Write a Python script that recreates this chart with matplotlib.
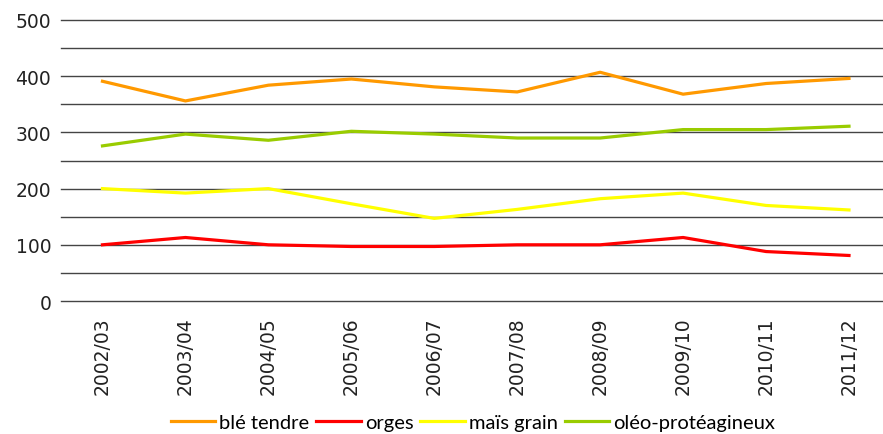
import matplotlib
matplotlib.use("Agg")
import matplotlib.pyplot as plt
from matplotlib.ticker import MultipleLocator

campagnes = ["2002/03", "2003/04", "2004/05", "2005/06", "2006/07",
             "2007/08", "2008/09", "2009/10", "2010/11", "2011/12"]
ble_tendre = [391, 356, 384, 395, 381, 372, 407, 368, 387, 396]
orges = [100, 113, 100, 97, 97, 100, 100, 113, 88, 81]
mais_grain = [200, 192, 200, 173, 147, 163, 182, 192, 170, 162]
oleo_proteagineux = [276, 297, 286, 302, 297, 290, 290, 305, 305, 311]

series = [
    ("blé tendre", ble_tendre, "#ff9900"),
    ("orges", orges, "#ff0000"),
    ("maïs grain", mais_grain, "#ffff00"),
    ("oléo-protéagineux", oleo_proteagineux, "#99cc00"),
]

fig = plt.figure(figsize=(8.83, 4.35), dpi=100)
ax = fig.add_axes([61 / 883, 1 - 302 / 435, (883 - 61) / 883, 281 / 435])

x = list(range(len(campagnes)))
for name, vals, col in series:
    ax.plot(x, vals, color=col, lw=2.3, label=name, zorder=3)

# gridlines every 50, unclipped so the one at 0 shows fully
for v in MultipleLocator(50).tick_values(0, 500):
    if 0 <= v <= 500:
        ax.axhline(v, color="#444444", lw=1.0, clip_on=False, zorder=1)

ax.set_ylim(0, 500)
ax.set_xlim(-0.5, 9.41)
ax.yaxis.set_major_locator(MultipleLocator(100))
for s in ax.spines.values():
    s.set_visible(False)
ax.tick_params(axis="both", length=0, labelsize=13.5, colors="#222222")
ax.tick_params(axis="y", pad=7)
ax.set_xticks(x)
ax.set_xticklabels(campagnes, rotation=90, fontsize=13.5)
ax.tick_params(axis="x", pad=11)

fig.legend(loc="center", bbox_to_anchor=(473 / 883, 1 - 423 / 435), ncol=4,
           frameon=False, prop={"family": "Lato", "size": 14.5},
           handlelength=2.2, handletextpad=0.2, columnspacing=0.35, borderaxespad=0)

fig.savefig("out.png", dpi=100)
